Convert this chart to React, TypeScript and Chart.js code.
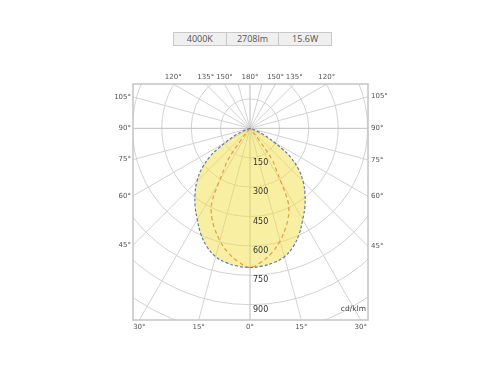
import React, { useEffect, useRef } from "react";
import { Chart, registerables } from "chart.js";

Chart.register(...registerables);

// Header info
const headerCells = ["4000K", "2708lm", "15.6W"];

// C0/C180 plane (symmetric), gamma angles from nadir (deg) and intensity (cd/klm)
const c0Angles = [0, 5, 10, 15, 20, 25, 30, 35, 40, 45, 50, 55, 57.5, 60, 62.5, 65, 67.5, 70];
const c0Values = [710, 706, 696, 678, 643, 594, 538, 488, 436, 383, 322, 247, 194, 143, 107, 79, 41, 0];

// C90/C270 plane (symmetric)
const c90Angles = [0, 5, 10, 15, 20, 22.5, 25, 27.5, 30, 32.5, 35, 37.5, 40];
const c90Values = [710, 683, 644, 594, 536, 504, 469, 418, 316, 245, 199, 77, 0];

// Grid
const ringValues = [150, 300, 450, 600, 750, 900, 1050, 1200];
const ringLabels = [150, 300, 450, 600, 750, 900];
const spokeStep = 15;
const topLabelAngles = [120, 135, 150, 180];
const sideLabelAngles = [105, 90, 75, 60, 45];
const bottomLabelAngles = [30, 15, 0];
const unitLabel = "cd/klm";

// Axis ranges (data units = cd/klm)
const xRange = [-597, 602];
const yRange = [-978, 226];

const rad = (d: number) => (d * Math.PI) / 180;

function buildCurve(angles: number[], values: number[]) {
  const pts: { x: number; y: number }[] = [];
  for (let i = angles.length - 1; i >= 0; i--) {
    const g = rad(angles[i]);
    pts.push({ x: -values[i] * Math.sin(g), y: -values[i] * Math.cos(g) });
  }
  for (let i = 1; i < angles.length; i++) {
    const g = rad(angles[i]);
    pts.push({ x: values[i] * Math.sin(g), y: -values[i] * Math.cos(g) });
  }
  return pts;
}

const polarGrid = {
  id: "polarGrid",
  beforeDatasetsDraw(chart: any) {
    const { ctx, chartArea, scales } = chart;
    const xs = scales.x;
    const ys = scales.y;
    const cx = xs.getPixelForValue(0);
    const cy = ys.getPixelForValue(0);
    const ppu = Math.abs(xs.getPixelForValue(100) - cx) / 100;
    ctx.save();
    ctx.beginPath();
    ctx.rect(chartArea.left, chartArea.top, chartArea.right - chartArea.left, chartArea.bottom - chartArea.top);
    ctx.clip();
    ctx.lineWidth = 1;
    ctx.strokeStyle = "#d2d2d2";
    for (const r of ringValues) {
      ctx.beginPath();
      ctx.arc(cx, cy, r * ppu, 0, Math.PI * 2);
      ctx.stroke();
    }
    for (let a = 0; a < 360; a += spokeStep) {
      const g = rad(a);
      const R = 2000;
      ctx.beginPath();
      ctx.strokeStyle = a % 90 === 0 ? "#bdbdbd" : "#d2d2d2";
      ctx.moveTo(cx, cy);
      ctx.lineTo(xs.getPixelForValue(R * Math.sin(g)), ys.getPixelForValue(-R * Math.cos(g)));
      ctx.stroke();
    }
    ctx.restore();

    // frame
    ctx.save();
    ctx.strokeStyle = "#c4c4c4";
    ctx.lineWidth = 1.5;
    ctx.strokeRect(chartArea.left, chartArea.top, chartArea.right - chartArea.left, chartArea.bottom - chartArea.top);
    ctx.restore();

    // angle labels
    ctx.save();
    ctx.fillStyle = "#555";
    ctx.font = "7px 'DejaVu Sans', sans-serif";
    ctx.textBaseline = "middle";
    const [xMin, xMax] = xRange;
    const [yMin, yMax] = yRange;
    ctx.textAlign = "center";
    for (const a of topLabelAngles) {
      const g = rad(a);
      const t = yMax / -Math.cos(g);
      const xv = t * Math.sin(g);
      const sides = a === 180 ? [1] : [1, -1];
      for (const s of sides) {
        ctx.fillText(a + "°", xs.getPixelForValue(s * xv), chartArea.top - 7);
      }
    }
    for (const a of bottomLabelAngles) {
      const g = rad(a);
      const t = yMin / -Math.cos(g);
      const xv = t * Math.sin(g);
      const sides = a === 0 ? [1] : [1, -1];
      for (const s of sides) {
        ctx.fillText(a + "°", xs.getPixelForValue(s * xv), chartArea.bottom + 7);
      }
    }
    for (const a of sideLabelAngles) {
      const g = rad(a);
      const tR = xMax / Math.sin(g);
      const yR = -tR * Math.cos(g);
      const tL = -xMin / Math.sin(g);
      const yL = -tL * Math.cos(g);
      ctx.textAlign = "right";
      ctx.fillText(a + "°", chartArea.left - 2, ys.getPixelForValue(yL));
      ctx.textAlign = "left";
      ctx.fillText(a + "°", chartArea.right + 3, ys.getPixelForValue(yR));
    }
    ctx.restore();
  },
  afterDatasetsDraw(chart: any) {
    const { ctx, chartArea, scales } = chart;
    const xs = scales.x;
    const ys = scales.y;
    const cx = xs.getPixelForValue(0);
    ctx.save();
    ctx.fillStyle = "#333";
    ctx.font = "8px 'DejaVu Sans', sans-serif";
    ctx.textBaseline = "middle";
    ctx.textAlign = "left";
    for (const r of ringLabels) {
      ctx.fillText(String(r), cx + 3, ys.getPixelForValue(-r) + 5);
    }
    ctx.textAlign = "right";
    ctx.fillStyle = "#444";
    ctx.font = "7.5px 'DejaVu Sans', sans-serif";
    ctx.fillText(unitLabel, chartArea.right - 2, chartArea.bottom - 11);
    ctx.restore();
  },
};

export default function App() {
  const ref = useRef<HTMLCanvasElement>(null);
  useEffect(() => {
    document.body.style.margin = "0";
    if (!ref.current) return;
    const chart = new Chart(ref.current, {
      type: "scatter",
      data: {
        datasets: [
          {
            data: buildCurve(c0Angles, c0Values),
            showLine: true,
            borderColor: "#6479b2",
            borderWidth: 1.2,
            borderDash: [3, 2],
            backgroundColor: "rgba(241,224,72,0.5)",
            fill: "shape",
            pointRadius: 0,
            tension: 0.4,
          },
          {
            data: buildCurve(c90Angles, c90Values),
            showLine: true,
            borderColor: "#e8503e",
            borderWidth: 1.2,
            borderDash: [4, 3],
            fill: false,
            pointRadius: 0,
            tension: 0.4,
          },
        ],
      } as any,
      options: {
        responsive: false,
        animation: false,
        layout: { padding: { left: 133, right: 132, top: 84, bottom: 50 } },
        scales: {
          x: { type: "linear", min: xRange[0], max: xRange[1], display: false },
          y: { type: "linear", min: yRange[0], max: yRange[1], display: false },
        },
        plugins: { legend: { display: false }, tooltip: { enabled: false } },
      } as any,
      plugins: [polarGrid],
    });
    return () => chart.destroy();
  }, []);

  return (
    <div style={{ position: "relative", width: 500, height: 370, background: "#fff" }}>
      <canvas ref={ref} width={500} height={370} style={{ position: "absolute", left: 0, top: 0 }} />
      <div
        style={{
          position: "absolute",
          left: 173,
          top: 32,
          width: 157,
          height: 12,
          display: "flex",
          border: "1px solid #c8c8c8",
          background: "#efefef",
          fontFamily: "'Open Sans', sans-serif",
          fontSize: 9,
          color: "#555",
          lineHeight: "12px",
        }}
      >
        {headerCells.map((c, i) => (
          <div
            key={i}
            style={{
              flex: 1,
              textAlign: "center",
              borderLeft: i > 0 ? "1px solid #c8c8c8" : "none",
            }}
          >
            {c}
          </div>
        ))}
      </div>
    </div>
  );
}
